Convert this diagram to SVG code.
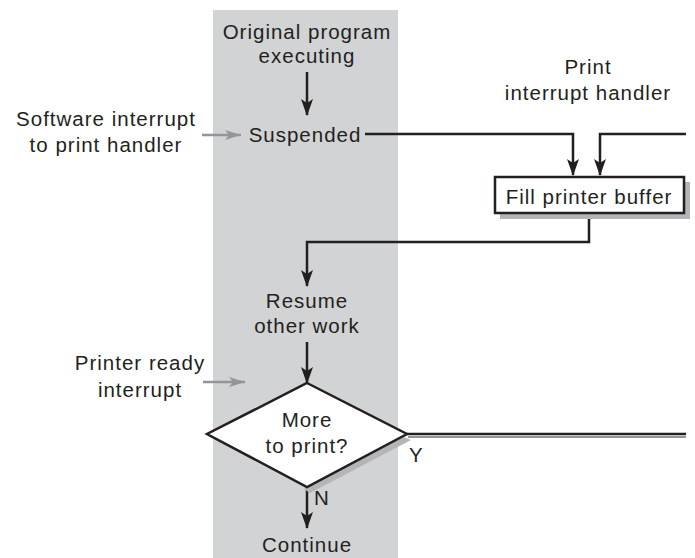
<svg xmlns="http://www.w3.org/2000/svg" width="695" height="558" viewBox="0 0 695 558">
<defs>
<style>
text{font-family:"Liberation Sans",Arial,sans-serif;font-size:20.5px;fill:#231f20;letter-spacing:1px}
.c{text-anchor:middle}
.ln{fill:none;stroke:#231f20;stroke-width:2.5}
.gl{fill:none;stroke:#939598;stroke-width:2.5}
.sh{fill:#b3b5b8;stroke:none}
</style>
<marker id="ah" markerWidth="17" markerHeight="12" refX="16" refY="6" orient="auto" markerUnits="userSpaceOnUse" viewBox="0 0 17 12">
<path d="M0,0 L17,6 L0,12 L4,6 Z" fill="#231f20"/>
</marker>
<marker id="gh" markerWidth="16" markerHeight="10" refX="16" refY="5" orient="auto" markerUnits="userSpaceOnUse" viewBox="0 0 16 10">
<path d="M0,0 L16,5 L0,10 L4,5 Z" fill="#939598"/>
</marker>
</defs>
<rect id="band" x="213" y="10" width="185" height="548" fill="#d1d3d4"/>
<g id="connectors">
<line class="ln" x1="307" y1="72" x2="307" y2="115" marker-end="url(#ah)"/>
<polyline class="ln" points="365,134 573,134 573,175" marker-end="url(#ah)"/>
<polyline class="ln" points="686,134 600,134 600,175" marker-end="url(#ah)"/>
<polyline class="ln" points="589,213 589,242 307,242 307,286" marker-end="url(#ah)"/>
<line class="ln" x1="307" y1="342" x2="307" y2="383" marker-end="url(#ah)"/>
<line x1="408" y1="437" x2="686" y2="437" stroke="#939598" stroke-width="2"/>
<line class="ln" x1="407" y1="434" x2="686" y2="434"/>
<line class="ln" x1="307" y1="487" x2="307" y2="528" marker-end="url(#ah)"/>
<line class="gl" x1="202" y1="135" x2="241" y2="135" marker-end="url(#gh)"/>
<line class="gl" x1="203" y1="382" x2="245" y2="382" marker-end="url(#gh)"/>
</g>
<g id="n-original"><text class="c" x="307" y="39">Original program</text><text class="c" x="307" y="63">executing</text></g>
<g id="n-suspended"><text class="c" x="305" y="142">Suspended</text></g>
<g id="n-software"><text class="c" x="106" y="126">Software interrupt</text><text class="c" x="106" y="152">to print handler</text></g>
<g id="n-handler"><text class="c" x="588" y="74">Print</text><text class="c" x="588" y="100">interrupt handler</text></g>
<g id="n-fill">
<path class="sh" d="M684,182 L690,182 L690,219 L500,219 L500,213 L684,213 Z"/>
<rect x="495" y="177" width="189" height="36" fill="#fff" stroke="#231f20" stroke-width="2.5"/>
<text class="c" x="589" y="204">Fill printer buffer</text>
</g>
<g id="n-resume"><text class="c" x="307" y="308">Resume</text><text class="c" x="307" y="333">other work</text></g>
<g id="n-ready"><text class="c" x="140" y="370">Printer ready</text><text class="c" x="140" y="397">interrupt</text></g>
<g id="n-decision">
<path class="sh" d="M404,437 L411,440 L310,493 L304,489 Z"/>
<path d="M307,383 L407,434 L307,487 L207,434 Z" fill="#fff" stroke="#231f20" stroke-width="2.5" stroke-linejoin="miter"/>
<text class="c" x="307" y="427">More</text>
<text class="c" x="307" y="453">to print?</text>
<text x="409" y="462">Y</text>
<text x="314" y="505">N</text>
</g>
<g id="n-continue"><text class="c" x="307" y="552">Continue</text></g>
</svg>
